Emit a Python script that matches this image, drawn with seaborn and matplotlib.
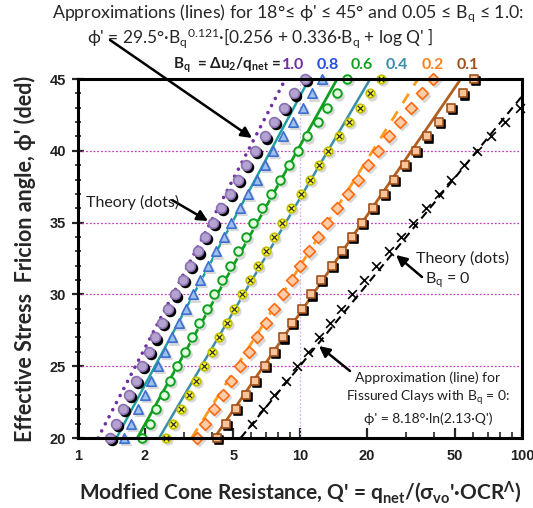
import numpy as np
import pandas as pd
import matplotlib
matplotlib.use("Agg")
import matplotlib.pyplot as plt
import matplotlib.transforms as mtransforms
from matplotlib.ticker import FixedLocator, NullFormatter
import seaborn as sns

sns.set_theme(style="white")
plt.rcParams['font.family'] = ['Lato', 'DejaVu Sans']
plt.rcParams['mathtext.fontset'] = 'custom'
plt.rcParams['mathtext.rm'] = 'Lato'
plt.rcParams['mathtext.it'] = 'Lato:italic'
plt.rcParams['mathtext.bf'] = 'Lato:bold'

# ---------------- data ----------------
phi_deg = list(range(20, 46))
q_bq10 = [1.39, 1.49, 1.59, 1.70, 1.82, 1.95, 2.08, 2.23, 2.39, 2.55, 2.73, 2.96, 3.20,
          3.46, 3.74, 4.05, 4.42, 4.82, 5.26, 5.74, 6.27, 6.92, 7.66, 8.49, 9.42, 10.5]
q_bq08 = [1.61, 1.73, 1.86, 2.00, 2.14, 2.30, 2.47, 2.65, 2.85, 3.06, 3.29, 3.56, 3.86,
          4.18, 4.53, 4.91, 5.36, 5.85, 6.37, 6.95, 7.59, 8.39, 9.27, 10.3, 11.3, 12.5]
q_bq06 = [1.95, 2.10, 2.25, 2.43, 2.61, 2.80, 3.02, 3.26, 3.52, 3.80, 4.10, 4.45, 4.83,
          5.24, 5.69, 6.17, 6.76, 7.41, 8.13, 8.91, 9.77, 10.8, 12.0, 13.2, 14.7, 16.2]
q_bq04 = [2.48, 2.69, 2.91, 3.16, 3.41, 3.70, 4.00, 4.32, 4.67, 5.05, 5.46, 5.94, 6.46,
          7.03, 7.64, 8.32, 9.15, 10.1, 11.1, 12.2, 13.4, 15.0, 16.7, 18.6, 20.7, 23.1]
q_bq02 = [3.43, 3.75, 4.10, 4.49, 4.91, 5.37, 5.87, 6.41, 7.00, 7.65, 8.36, 9.16, 10.0,
          11.0, 12.1, 13.3, 14.7, 16.4, 18.2, 20.2, 22.4, 25.1, 28.1, 31.5, 35.3, 39.6]
q_bq01 = [4.22, 4.66, 5.15, 5.69, 6.30, 6.95, 7.64, 8.39, 9.25, 10.2, 11.2, 12.4, 13.9,
          15.4, 17.2, 19.1, 21.4, 23.9, 26.6, 29.7, 33.2, 37.5, 42.4, 47.8, 54.0, 61.0]
phi_bq0 = list(range(21, 44))
q_bq0 = [6.05, 6.82, 7.67, 8.65, 9.73, 10.9, 12.2, 13.6, 15.3, 17.1, 19.4, 22.1,
         25.1, 28.5, 32.4, 36.9, 42.1, 48.1, 54.8, 62.5, 72.6, 84.1, 97.7]

# approximation lines (straight on semi-log): end points
line_phi = [20, 45]
line_q10 = [1.23, 8.6]
line_q08 = [1.49, 11.0]
line_q06 = [1.85, 14.7]
line_q04 = [2.32, 20.7]
line_q02 = [3.25, 34.0]
line_q01 = [4.11, 53.0]
line0_phi = [20, 43.8]
line0_q = [5.4, 100.0]

bq_labels = ["1.0", "0.8", "0.6", "0.4", "0.2", "0.1"]
x_ticks = [1, 2, 5, 10, 20, 50, 100]
y_ticks = [20, 25, 30, 35, 40, 45]

# ---------------- figure ----------------
W, H = 533, 508
fig = plt.figure(figsize=(W / 100, H / 100), dpi=100)
fig.patch.set_facecolor("white")
ax = fig.add_axes([78 / W, 70 / H, 444 / W, 359 / H])
ax.set_facecolor("white")
ax.set_xscale("log")
ax.set_xlim(1, 100)
ax.set_ylim(20, 45)

# grid lines
for yv in [25, 30, 35, 40]:
    ax.axhline(yv, color="#C040C0", lw=0.9, ls=(0, (1.5, 1.5)), zorder=1)
ax.axvline(10, color="#D8B0F0", lw=0.9, ls=(0, (1.5, 1.5)), zorder=1)

def pts(q, phi):
    return pd.DataFrame({"Q": q, "phi": phi})

# lines
line_specs = [
    (line_q10, line_phi, "#7030A0", 2.6, (0, (0.01, 2.2)), "round"),
    (line_q08, line_phi, "#1FA0A0", 1.8, "-", "butt"),
    (line_q06, line_phi, "#10A020", 2.0, "-", "butt"),
    (line_q04, line_phi, "#3A8FA8", 1.8, "-", "butt"),
    (line_q02, line_phi, "#FF9A1A", 2.0, (0, (4, 3.5)), "butt"),
    (line_q01, line_phi, "#B3601F", 2.0, "-", "butt"),
    (line0_q, line0_phi, "#000000", 1.5, (0, (4, 2.5)), "butt"),
]
for q, phi, col, lw, ls, cap in line_specs:
    sns.lineplot(data=pts(q, phi), x="Q", y="phi", ax=ax, color=col, lw=lw,
                 sort=False, estimator=None, zorder=3)
    ln = ax.lines[-1]
    ln.set_linestyle(ls)
    ln.set_dash_capstyle(cap)
    ln.set_solid_capstyle(cap)

shadow = mtransforms.offset_copy(ax.transData, fig=fig, x=2.0, y=-2.2, units="dots")

def dots(q, phi, marker, fc, ec, s, shadow_col=None, lw=1.2, z=5):
    df = pts(q, phi)
    if shadow_col is not None:
        sns.scatterplot(data=df, x="Q", y="phi", ax=ax, marker=marker, s=s,
                        color=shadow_col, edgecolor=shadow_col, linewidth=lw,
                        zorder=z - 1, clip_on=False, legend=False)
        ax.collections[-1].set_offset_transform(shadow)
    sns.scatterplot(data=df, x="Q", y="phi", ax=ax, marker=marker, s=s,
                    color=fc, edgecolor=ec, linewidth=lw, zorder=z,
                    clip_on=False, legend=False)

dots(q_bq10, phi_deg, "o", "#B4A3D0", "#8A70B0", 50, shadow_col="#000000")
dots(q_bq08, phi_deg, "^", "#9EC0EA", "#3C6FD0", 46, shadow_col="#D8D8D8")
dots(q_bq06, phi_deg, "o", "#E4FFE0", "#10A020", 38, shadow_col="#D8D8D8", lw=1.4)
dots(q_bq04, phi_deg, "o", "#FFFF30", "#C0C000", 38, shadow_col="#D8D8D8")
sns.scatterplot(data=pts(q_bq04, phi_deg), x="Q", y="phi", ax=ax, marker="x", s=14,
                color="#303030", linewidth=0.9, zorder=6, clip_on=False, legend=False)
dots(q_bq02, phi_deg, "D", "#FCCDA8", "#FF6A10", 36, shadow_col="#D8D8D8")
dots(q_bq01, phi_deg, "s", "#FAC49A", "#A0501C", 36, shadow_col="#000000")
sns.scatterplot(data=pts(q_bq0, phi_bq0), x="Q", y="phi", ax=ax, marker="x", s=40,
                color="#000000", linewidth=1.2, zorder=6, clip_on=False, legend=False)

# axes styling
for sp in ax.spines.values():
    sp.set_color("black")
    sp.set_linewidth(2.2)
    sp.set_zorder(10)
ax.xaxis.set_major_locator(FixedLocator(x_ticks))
ax.set_xticklabels([str(v) for v in x_ticks])
minor_x = [m * 10 ** e for e in range(0, 2) for m in range(2, 10)]
ax.xaxis.set_minor_locator(FixedLocator(minor_x))
ax.xaxis.set_minor_formatter(NullFormatter())
ax.set_yticks(y_ticks)
ax.set_yticklabels([str(v) for v in y_ticks])
ax.yaxis.set_minor_locator(FixedLocator(list(range(20, 46))))
ax.yaxis.set_minor_formatter(NullFormatter())
ax.tick_params(axis="x", which="major", direction="in", length=7, width=1.6,
               bottom=True, pad=8)
ax.tick_params(axis="x", which="minor", direction="in", length=4, width=1.2, bottom=True)
ax.tick_params(axis="y", which="major", direction="inout", length=9, width=1.6,
               left=True, pad=4)
ax.tick_params(axis="y", which="minor", direction="inout", length=5, width=1.2, left=True)
for lab in ax.get_xticklabels() + ax.get_yticklabels():
    lab.set_fontfamily(["Liberation Sans", "DejaVu Sans"])
    lab.set_fontweight("bold")
    lab.set_fontsize(10.5)
    lab.set_color("#202020")

ax.set_xlabel("Modfied Cone Resistance, Q' = q$_\\mathregular{net}$/(σ$_\\mathregular{vo}$'·OCR$^\\mathregular{Λ}$)",
              fontsize=15, fontweight="bold", labelpad=12)
ax.set_ylabel("Effective Stress  Fricion angle, ϕ' (ded)", fontsize=15.5,
              fontweight="bold", labelpad=10)

def P(x, y):
    return (x, H - y)

# titles
fig.text(288 / W, 1 - 14 / H,
         "Approximations (lines) for 18°≤ ϕ' ≤ 45° and 0.05 ≤ B$_\\mathregular{q}$ ≤ 1.0:",
         ha="center", va="center", fontsize=12.8)
fig.text(87 / W, 1 - 38 / H,
         "ϕ' = 29.5°·B$_\\mathregular{q}$$^\\mathregular{0.121}$·[0.256 + 0.336·B$_\\mathregular{q}$ + log Q' ]",
         ha="left", va="center", fontsize=12.5)

# legend header
fig.text(282 / W, 1 - 65 / H, "B$_\\mathbf{q}$  = Δu$_\\mathbf{2}$/q$_\\mathbf{net}$ = ",
         ha="right", va="center", fontsize=11, fontweight="bold", color="#202020")
val_cols = ["#7030A0", "#2050E0", "#10A020", "#3A8FA8", "#FF8020", "#A0501C"]
val_x = [293, 328, 362, 397, 433, 468]
for lab, col, xv in zip(bq_labels, val_cols, val_x):
    fig.text(xv / W, 1 - 65 / H, lab, ha="center", va="center", fontsize=11.5,
             fontweight="bold", color=col)

aprops = dict(arrowstyle="-|>", color="black", lw=1.8, mutation_scale=16,
              shrinkA=0, shrinkB=0)
ax.annotate("", xy=P(252, 138), xycoords="figure pixels", xytext=P(110, 40),
            textcoords="figure pixels", arrowprops=aprops)
ax.annotate("", xy=P(208, 221), xycoords="figure pixels", xytext=P(172, 200),
            textcoords="figure pixels", arrowprops=aprops)
ax.annotate("", xy=P(396, 255), xycoords="figure pixels", xytext=P(422, 277),
            textcoords="figure pixels", arrowprops=aprops)
ax.annotate("", xy=P(319, 346), xycoords="figure pixels", xytext=P(350, 371),
            textcoords="figure pixels", arrowprops=aprops)

fig.text(86 / W, 1 - 202 / H, "Theory (dots)", ha="left", va="center", fontsize=11.5,
         color="#202020")
fig.text(463 / W, 1 - 258 / H, "Theory (dots)", ha="center", va="center", fontsize=11.5,
         color="#202020")
fig.text(448 / W, 1 - 280 / H, "B$_\\mathregular{q}$ = 0", ha="center", va="center",
         fontsize=11.5, color="#202020")
fig.text(428 / W, 1 - 378 / H, "Approximation (line) for", ha="center", va="center",
         fontsize=10, color="#202020")
fig.text(428 / W, 1 - 398 / H, "Fissured Clays with B$_\\mathregular{q}$ = 0:", ha="center",
         va="center", fontsize=10, color="#202020")
fig.text(428 / W, 1 - 419 / H, "ϕ' = 8.18°·ln(2.13·Q')", ha="center", va="center",
         fontsize=10, color="#202020")

fig.savefig("out.png", dpi=100, facecolor="white")
